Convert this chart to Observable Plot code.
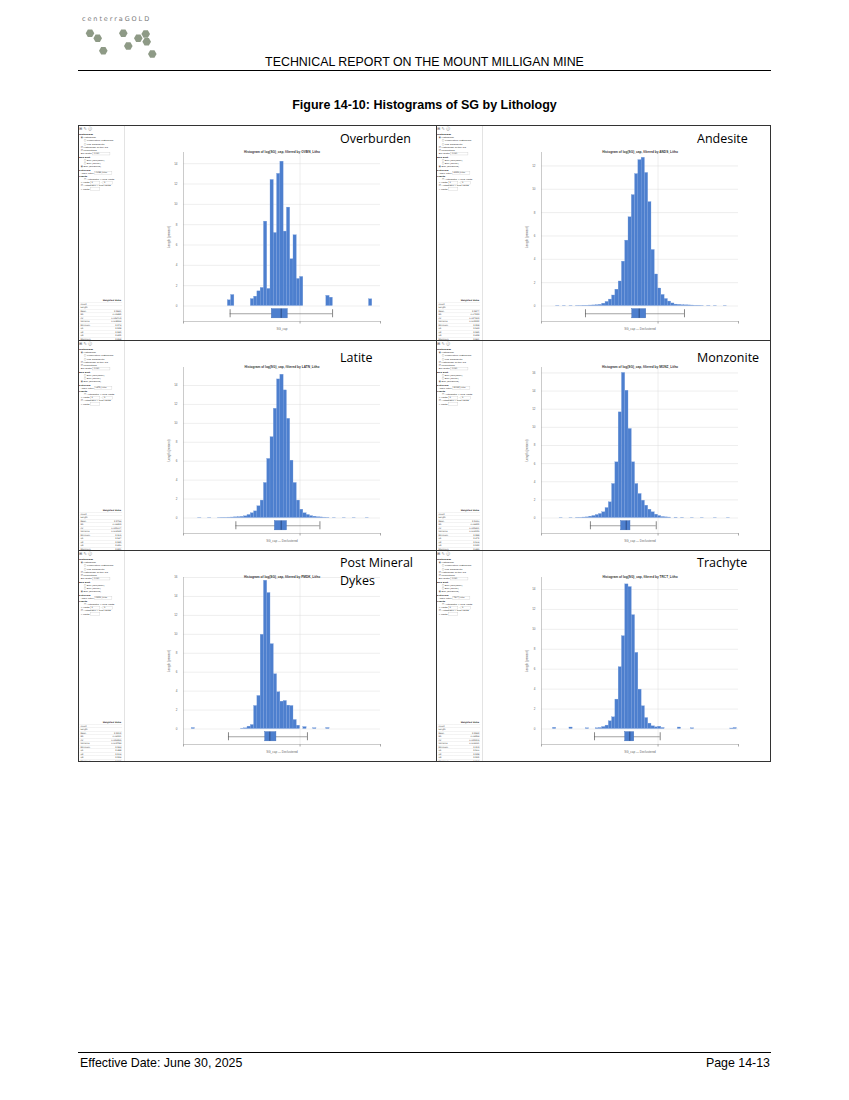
<!DOCTYPE html>
<html>
<head>
<meta charset="utf-8">
<script src="https://cdn.jsdelivr.net/npm/d3@7"></script>
<script src="https://cdn.jsdelivr.net/npm/@observablehq/plot@0.6"></script>
<style>
  html,body{margin:0;padding:0;background:#fff;}
  #page{position:relative;width:849px;height:1100px;overflow:hidden;font-family:"Liberation Sans",Arial,sans-serif;color:#000;}
  .abs{position:absolute;}
  #logoText{left:82px;top:15px;font-family:"DejaVu Sans",sans-serif;font-size:6.5px;letter-spacing:1.9px;color:#7a7a7a;}
  #hdr{left:0;width:849px;top:55px;text-align:center;font-size:12.4px;line-height:14px;}
  #hdrLine{left:78px;top:70px;width:693px;height:0;border-top:1px solid #000;}
  #figTitle{left:0;width:849px;top:98px;text-align:center;font-size:12.5px;line-height:14px;font-weight:bold;}
  #grid{left:78px;top:125px;width:693px;height:637px;}
  .panel{position:absolute;overflow:hidden;background:#fff;}
  .panel svg{position:absolute;left:47px;top:0;}
  .divider{position:absolute;left:46px;top:0;width:1px;height:100%;background:#e3e3e3;}
  .plabel{position:absolute;font-family:"Open Sans",sans-serif;font-size:12.5px;line-height:17.7px;color:#000;white-space:nowrap;}
  .gl{position:absolute;background:#333;}
  .sb{position:absolute;left:1px;top:1px;width:160px;height:750px;transform:scale(0.28);transform-origin:0 0;font-family:"DejaVu Sans",sans-serif;font-size:8.5px;line-height:11.5px;color:#333;}
  .sb .ic{font-size:14px;line-height:18px;color:#555;margin-bottom:6px;}
  .sb .h{font-weight:bold;color:#222;}
  .sb .r{padding-left:6px;}
  .sb .ind{padding-left:18px;}
  .sb .inp{display:inline-block;border:1px solid #bbb;width:58px;height:9px;vertical-align:middle;font-size:7px;line-height:9px;padding-left:3px;}
  .sb table{position:absolute;left:2px;width:152px;border-collapse:collapse;font-size:7.5px;color:#333;}
  .sb td{border-bottom:1px solid #d5d5d5;height:10.6px;padding:0 3px;}
  .sb td.v{text-align:right;}
  #footLine{left:78px;top:1052px;width:693px;height:0;border-top:1px solid #000;}
  #footL{left:80px;top:1056px;font-size:12.4px;line-height:14px;}
  #footR{right:79px;top:1056px;font-size:12.4px;line-height:14px;}
</style>
</head>
<body>
<div id="page">
  <svg class="abs" id="logo" style="left:0;top:0" width="200" height="70"></svg>
  <div class="abs" id="logoText">centerraGOLD</div>
  <div class="abs" id="hdr">TECHNICAL REPORT ON THE MOUNT MILLIGAN MINE</div>
  <div class="abs" id="hdrLine"></div>
  <div class="abs" id="figTitle">Figure 14-10: Histograms of SG by Lithology</div>
  <div class="abs" id="grid"></div>
  <div class="abs" id="footLine"></div>
  <div class="abs" id="footL">Effective Date: June 30, 2025</div>
  <div class="abs" id="footR">Page 14-13</div>
</div>
<script>
// ---------------- DATA ----------------
const BIN_WIDTH = 0.02;
const X_DOMAIN = [1.99, 3.19];
const X_TICKS = [1.99, 2.7, 3.19];
const X_MID_TICK = 2.7;

const lithologies = ["Overburden", "Andesite", "Latite", "Monzonite", "Post Mineral\nDykes", "Trachyte"];
const lithoCodes = ["OVBN", "ANDS", "LATN", "MONZ", "PMDK", "TRCT"];
const xLabels = ["SG_cap", "SG_cap \u2014 Declustered", "SG_cap \u2014 Declustered", "SG_cap \u2014 Declustered", "SG_cap \u2014 Declustered", "SG_cap \u2014 Declustered"];
const yMaxPct = [15.1, 13.15, 15.9, 16.6, 16.0, 15.2];

// bin start (SG) and weighted length percent
const overburdenBins = [2.26, 2.28, 2.40, 2.42, 2.44, 2.46, 2.48, 2.50, 2.52, 2.54, 2.56, 2.58, 2.60, 2.62, 2.64, 2.66, 2.68, 2.70, 2.86, 2.88, 3.12];
const overburdenPct  = [0.56, 1.08, 0.68, 0.92, 1.44, 1.78, 8.3, 1.68, 12.4, 7.18, 13.0, 14.2, 7.32, 9.68, 4.6, 6.96, 2.66, 2.86, 1.0, 0.82, 0.66];

const andesiteBins = [2.08, 2.12, 2.16, 2.20, 2.22, 2.24, 2.26, 2.28, 2.30, 2.32, 2.34, 2.36, 2.38, 2.40, 2.42, 2.44, 2.46, 2.48, 2.50, 2.52, 2.54, 2.56, 2.58, 2.60, 2.62, 2.64, 2.66, 2.68, 2.70, 2.72, 2.74, 2.76, 2.78, 2.80, 2.82, 2.84, 2.86, 2.88, 2.90, 2.92, 2.94, 2.96, 3.00, 3.04, 3.10];
const andesitePct  = [0.02, 0.02, 0.02, 0.02, 0.02, 0.03, 0.03, 0.04, 0.05, 0.07, 0.1, 0.2, 0.35, 0.55, 0.9, 1.4, 2.1, 3.8, 5.6, 7.6, 9.5, 11.3, 12.5, 12.7, 11.4, 8.9, 4.8, 2.7, 1.5, 0.95, 0.6, 0.38, 0.22, 0.12, 0.1, 0.07, 0.06, 0.05, 0.04, 0.03, 0.03, 0.02, 0.02, 0.02, 0.02];

const latiteBins = [2.08, 2.14, 2.20, 2.22, 2.24, 2.26, 2.28, 2.30, 2.32, 2.34, 2.36, 2.38, 2.40, 2.42, 2.44, 2.46, 2.48, 2.50, 2.52, 2.54, 2.56, 2.58, 2.60, 2.62, 2.64, 2.66, 2.68, 2.70, 2.72, 2.74, 2.76, 2.78, 2.80, 2.82, 2.84, 2.86, 2.90, 2.96, 3.02, 3.10];
const latitePct  = [0.02, 0.02, 0.02, 0.03, 0.03, 0.04, 0.05, 0.07, 0.09, 0.12, 0.18, 0.32, 0.5, 0.7, 1.24, 1.84, 3.7, 6.24, 8.54, 11.54, 14.64, 15.14, 13.48, 10.48, 6.06, 3.7, 1.84, 0.88, 0.5, 0.32, 0.2, 0.14, 0.08, 0.06, 0.04, 0.03, 0.02, 0.02, 0.02, 0.02];

const monzoniteBins = [2.10, 2.16, 2.20, 2.22, 2.24, 2.26, 2.28, 2.30, 2.32, 2.34, 2.36, 2.38, 2.40, 2.42, 2.44, 2.46, 2.48, 2.50, 2.52, 2.54, 2.56, 2.58, 2.60, 2.62, 2.64, 2.66, 2.68, 2.70, 2.72, 2.74, 2.76, 2.80, 2.84, 2.90, 2.96, 3.04, 3.12];
const monzonitePct  = [0.02, 0.02, 0.03, 0.03, 0.05, 0.07, 0.15, 0.22, 0.33, 0.44, 0.63, 1.1, 1.73, 3.75, 6.14, 11.65, 16.0, 14.04, 9.82, 6.14, 3.75, 2.65, 1.91, 1.36, 0.92, 0.63, 0.37, 0.22, 0.11, 0.07, 0.05, 0.04, 0.03, 0.02, 0.02, 0.02, 0.02];

const dykesBins = [2.04, 2.34, 2.36, 2.38, 2.40, 2.42, 2.44, 2.46, 2.48, 2.50, 2.52, 2.54, 2.56, 2.58, 2.60, 2.62, 2.64, 2.66, 2.68, 2.72, 2.78, 2.86];
const dykesPct  = [0.1, 0.04, 0.07, 0.25, 0.42, 2.43, 3.49, 9.95, 15.66, 14.36, 8.96, 5.78, 3.88, 2.89, 2.96, 2.47, 2.43, 0.95, 0.35, 0.2, 0.08, 0.1];

const trachyteBins = [2.06, 2.16, 2.26, 2.32, 2.34, 2.36, 2.38, 2.40, 2.42, 2.44, 2.46, 2.48, 2.50, 2.52, 2.54, 2.56, 2.58, 2.60, 2.62, 2.64, 2.66, 2.68, 2.70, 2.72, 2.82, 2.90, 3.14, 3.16];
const trachytePct  = [0.12, 0.15, 0.07, 0.07, 0.1, 0.2, 0.34, 0.77, 1.17, 2.95, 6.2, 9.31, 14.51, 14.24, 11.42, 7.64, 3.95, 2.28, 1.1, 0.54, 0.27, 0.17, 0.23, 0.1, 0.15, 0.07, 0.05, 0.1];

const binStarts = [overburdenBins, andesiteBins, latiteBins, monzoniteBins, dykesBins, trachyteBins];
const binPcts = [overburdenPct, andesitePct, latitePct, monzonitePct, dykesPct, trachytePct];

// box plot statistics (SG)
const boxMin    = [2.274, 2.258, 2.309, 2.288, 2.264, 2.313];
const boxQ1     = [2.528, 2.543, 2.547, 2.475, 2.488, 2.500];
const boxMedian = [2.585, 2.585, 2.585, 2.506, 2.516, 2.528];
const boxQ3     = [2.625, 2.628, 2.620, 2.532, 2.556, 2.555];
const boxMax    = [2.898, 2.861, 2.821, 2.689, 2.745, 2.713];

// ---------------- STYLE / LAYOUT ----------------
const BAR_FILL = "#4d7fce";
const BAR_EDGE = "#7aa0de";
const BOX_FILL = "#4d7fce";
const colX = [0, 358], colW = [358, 335];
const rowY = [0, 215, 425], rowH = [215, 210, 212];
const SIDEBAR_W = 47;
const PLOT_W = 197;
const marginBottoms = [19, 17, 18];
const BASE_GAP = 15.5;
const labelLeft = [262, 261];
const labelTop = [5.4, 8.8, 4.4];

// ---------------- LOGO ----------------
const logoCenters = [[90,33.3],[97.7,38.3],[123.3,33.3],[138.3,38.3],[145.7,34],[146.7,41.7],[128.3,46],[103.3,50.7],[152.3,54]];
(function drawLogo(){
  const svg = d3.select("#logo");
  const r = 4.3;
  svg.selectAll("polygon").data(logoCenters).join("polygon")
    .attr("points", ([cx, cy]) => d3.range(6).map(k => {
      const a = Math.PI / 3 * k;
      return [cx + r * Math.cos(a), cy + r * Math.sin(a)].join(",");
    }).join(" "))
    .attr("fill", "#8e9a86");
})();

// ---------------- SIDEBAR ----------------
function fmt(v, d) { return v.toFixed(d); }
function sidebarHTML(i, h) {
  const bins = binStarts[i], pct = binPcts[i];
  const tot = d3.sum(pct);
  const mean = d3.sum(bins, (b, j) => (b + BIN_WIDTH / 2) * pct[j]) / tot;
  const variance = d3.sum(bins, (b, j) => (b + BIN_WIDTH / 2 - mean) ** 2 * pct[j]) / tot;
  const sd = Math.sqrt(variance);
  const rows = [
    ["Count", ""], ["Length", ""], ["Mean", fmt(mean, 4)], ["SD", fmt(sd, 5)], ["CV", fmt(sd / mean, 6)],
    ["Variance", fmt(variance, 6)], ["Minimum", fmt(boxMin[i], 3)], ["Q1", fmt(boxQ1[i], 3)],
    ["Q2", fmt(boxMedian[i], 3)], ["Q3", fmt(boxQ3[i], 3)], ["Maximum", fmt(boxMax[i], 3)]
  ];
  const tableTop = (h - 42) / 0.28;
  return `<div class="sb">
    <div class="ic">&#x229E; &#x270E; &#x24D8;</div>
    <div class="h">Histogram</div>
    <div class="r">&#x25C9; Histogram</div>
    <div class="r ind">&#x25CB; Cumulative histogram</div>
    <div class="r ind">&#x25CB; Log probability</div>
    <div class="r">&#x2611; Histogram of the log</div>
    <div class="r">&#x2611; Percentage</div>
    <div class="r">Bin width <span class="inp">0.020</span></div>
    <div class="h">Box Plot</div>
    <div class="r ind">&#x25CB; Box (min/max)</div>
    <div class="r ind">&#x25CB; Box (Tukey)</div>
    <div class="r">&#x25C9; Box (whiskers)</div>
    <div class="h">Filtering</div>
    <div class="r">Apply filter <span class="inp">${lithoCodes[i]}_Litho</span></div>
    <div class="h">Limits</div>
    <div class="r ind">&#x2610; Automatic X axis limits</div>
    <div class="r">X limits <span class="inp" style="width:30px">2</span> &ndash; <span class="inp" style="width:30px">3</span></div>
    <div class="r">&#x2611; Automatic Y axis limits</div>
    <div class="r">Y limits <span class="inp" style="width:30px"></span></div>
    <table style="top:${tableTop}px">
      <tr><td></td><td class="v" style="font-weight:bold">Weighted Value</td></tr>
      ${rows.map(([k, v]) => `<tr><td>${k}</td><td class="v">${v}</td></tr>`).join("")}
    </table>
  </div>`;
}

// ---------------- HISTOGRAM PANELS ----------------
function histogramPlot(i) {
  const row = Math.floor(i / 2), col = i % 2;
  const w = colW[col] - SIDEBAR_W, h = rowH[row];
  const mT = 27, mB = marginBottoms[row], mL = 58, mR = w - mL - PLOT_W;
  const plotH = h - mT - mB;
  const yMax = yMaxPct[i];
  const pxPer = (plotH - BASE_GAP) / yMax;
  const yMin = -BASE_GAP / pxPer;
  const u = 1 / pxPer;
  const boxY = yMin / 2;
  const data = binStarts[i].map((x, j) => ({x1: x, x2: x + BIN_WIDTH, pct: binPcts[i][j]}));
  const stats = {min: boxMin[i], q1: boxQ1[i], med: boxMedian[i], q3: boxQ3[i], max: boxMax[i]};
  const grid = d3.range(0, yMax + 1e-9, 2);
  return Plot.plot({
    width: w, height: h,
    marginTop: mT, marginBottom: mB, marginLeft: mL, marginRight: mR,
    x: {domain: X_DOMAIN},
    y: {domain: [yMin, yMax]},
    style: {background: "transparent", fontFamily: "'Liberation Sans', Arial, sans-serif", overflow: "visible"},
    marks: [
      Plot.gridY(grid, {stroke: "#dcdcdc", strokeOpacity: 1, strokeWidth: 0.5}),
      Plot.gridX([X_MID_TICK], {stroke: "#dcdcdc", strokeOpacity: 1, strokeWidth: 0.5}),
      Plot.rect(data, {x1: "x1", x2: "x2", y1: 0, y2: "pct", fill: BAR_FILL, stroke: BAR_EDGE, strokeWidth: 0.3}),
      Plot.ruleY([stats], {x1: "min", x2: "max", y: boxY, stroke: "#666", strokeWidth: 0.6}),
      Plot.ruleX([stats.min, stats.max], {y1: boxY - 4 * u, y2: boxY + 4 * u, stroke: "#555", strokeWidth: 0.7}),
      Plot.rect([stats], {x1: "q1", x2: "q3", y1: boxY - 4.6 * u, y2: boxY + 4.6 * u, fill: BOX_FILL, stroke: "#3a68b4", strokeWidth: 0.4}),
      Plot.ruleX([stats.med], {y1: boxY - 4.6 * u, y2: boxY + 4.6 * u, stroke: "#1d3566", strokeWidth: 0.7}),
      Plot.ruleX([X_DOMAIN[0]], {stroke: "#a8a8a8", strokeWidth: 0.6}),
      Plot.ruleY([yMin], {stroke: "#a8a8a8", strokeWidth: 0.6}),
      Plot.axisY({ticks: grid, tickSize: 0, tickPadding: 6, fontSize: 3, fill: "#666",
        label: "Length (percent)", labelAnchor: "center", labelArrow: false, labelOffset: 16}),
      Plot.axisX({ticks: X_TICKS, tickSize: 2.5, tickFormat: () => "", stroke: "#a8a8a8", fontSize: 3, fill: "#666",
        label: xLabels[i], labelAnchor: "center", labelArrow: false, labelOffset: 8}),
      Plot.text([`Histogram of log(SG)_cap, filtered by ${lithoCodes[i]}_Litho`],
        {frameAnchor: "top", dy: -2, fontSize: 3.2, fontWeight: "bold", fill: "#333"})
    ]
  });
}

const gridEl = document.getElementById("grid");
lithologies.forEach((name, i) => {
  const row = Math.floor(i / 2), col = i % 2;
  const p = document.createElement("div");
  p.className = "panel";
  Object.assign(p.style, {left: colX[col] + "px", top: rowY[row] + "px", width: colW[col] + "px", height: rowH[row] + "px"});
  p.innerHTML = sidebarHTML(i, rowH[row]) + `<div class="divider"></div>`;
  p.appendChild(histogramPlot(i));
  const lab = document.createElement("div");
  lab.className = "plabel";
  lab.style.left = labelLeft[col] + "px";
  lab.style.top = labelTop[row] + "px";
  lab.innerHTML = name.split("\n").join("<br>");
  p.appendChild(lab);
  gridEl.appendChild(p);
});

// panel grid lines
const lines = [
  {left: 0, top: 0, width: 693, height: 1.2}, {left: 0, top: 636, width: 693, height: 1.2},
  {left: 0, top: 0, width: 1.2, height: 637}, {left: 692, top: 0, width: 1.2, height: 637},
  {left: 358, top: 0, width: 1.2, height: 637},
  {left: 0, top: 215, width: 693, height: 1.2}, {left: 0, top: 425, width: 693, height: 1.2}
];
lines.forEach(l => {
  const d = document.createElement("div");
  d.className = "gl";
  Object.assign(d.style, {left: l.left + "px", top: l.top + "px", width: l.width + "px", height: l.height + "px"});
  gridEl.appendChild(d);
});
</script>
</body>
</html>
